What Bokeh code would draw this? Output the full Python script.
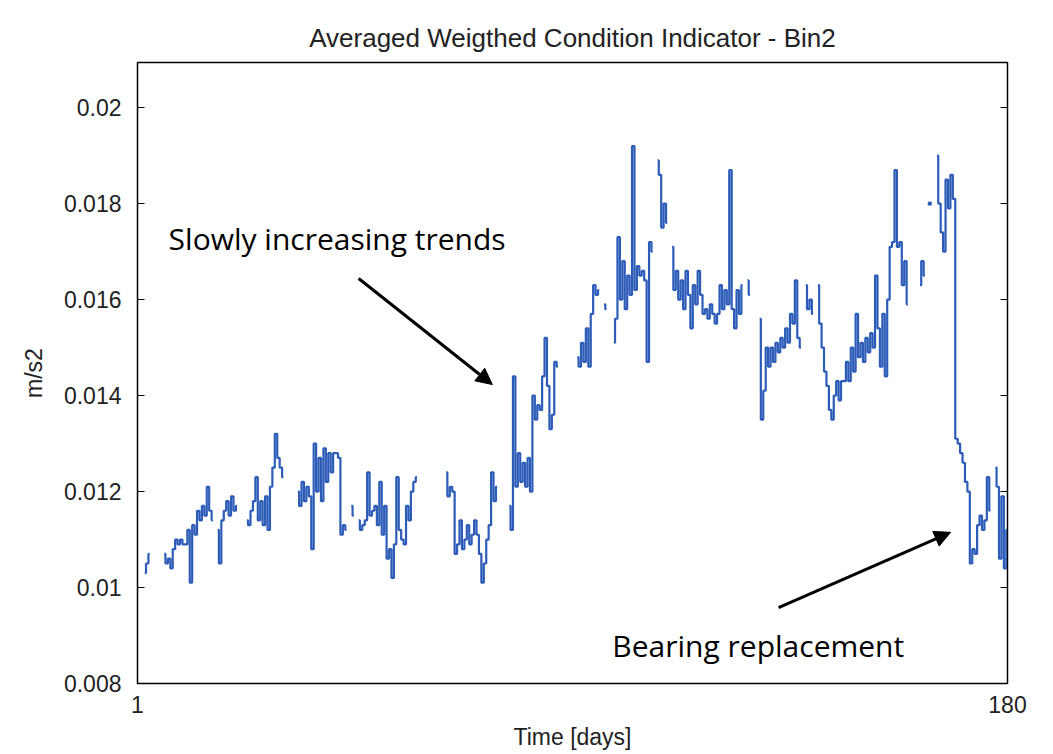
import numpy as np
from bokeh.plotting import figure
from bokeh.models import (LinearAxis, FixedTicker, CustomJSTickFormatter, Arrow,
                          NormalHead, Label, Range1d)
from bokeh.embed import file_html
from bokeh.resources import INLINE

nan = float("nan")

# sampling of the condition indicator: two readings per day, day 1 .. day 180
first_day = 1.0
last_day = 180.0
readings_per_day = 2

# averaged weighted condition indicator (m/s2); nan marks missing readings
ci_days_001_010 = [nan, nan, nan, 0.0103, 0.0105, 0.0107, nan, nan, nan, nan,
                   nan, 0.0107, 0.0105, 0.0106, 0.0104, 0.0108, 0.0110, 0.0109, 0.0110, 0.0109]
ci_days_011_020 = [0.0109, 0.0112, 0.0101, 0.0113, 0.0111, 0.0116, 0.0114, 0.0117, 0.0115, 0.0121,
                   0.0116, 0.0114, nan, 0.0112, 0.0105, 0.0114, 0.0116, 0.0118, 0.0115, 0.0119]
ci_days_021_030 = [0.0116, 0.0117, nan, nan, nan, 0.0114, 0.0113, 0.0116, 0.0118, 0.0123,
                   0.0114, 0.0118, 0.0113, 0.0119, 0.0112, 0.0121, 0.0125, 0.0132, 0.0127, 0.0125]
ci_days_031_040 = [0.0123, nan, nan, nan, nan, nan, 0.0120, 0.0117, 0.0122, 0.0118,
                   0.0121, 0.0119, 0.0108, 0.0130, 0.0120, 0.0127, 0.0118, 0.0129, 0.0122, 0.0128]
ci_days_041_050 = [0.0124, 0.0128, 0.0128, 0.0127, 0.0111, 0.0113, 0.0112, nan, 0.0117, 0.0115,
                   nan, 0.0114, 0.0112, 0.0113, 0.0114, 0.0124, 0.0115, 0.0116, 0.0117, 0.0113]
ci_days_051_060 = [0.0122, 0.0111, 0.0117, 0.0106, 0.0108, 0.0102, 0.0109, 0.0123, 0.0112, 0.0110,
                   0.0109, 0.0117, 0.0114, 0.0120, 0.0122, 0.0123, nan, nan, nan, nan]
ci_days_061_070 = [nan, nan, nan, nan, nan, nan, nan, 0.0124, 0.0119, 0.0121,
                   0.0120, 0.0107, 0.0109, 0.0114, 0.0108, 0.0110, 0.0113, 0.0109, 0.0111, 0.0114]
ci_days_071_080 = [0.0111, 0.0107, 0.0101, 0.0105, 0.0110, 0.0113, 0.0124, 0.0118, 0.0121, nan,
                   nan, nan, nan, 0.0117, 0.0112, 0.0144, 0.0121, 0.0128, 0.0122, 0.0126]
ci_days_081_090 = [0.0121, 0.0127, 0.0120, 0.0140, 0.0135, 0.0138, 0.0137, 0.0144, 0.0152, 0.0142,
                   0.0133, 0.0136, 0.0147, 0.0146, nan, nan, nan, nan, nan, nan]
ci_days_091_100 = [nan, 0.0148, 0.0146, 0.0151, 0.0147, 0.0154, 0.0146, 0.0157, 0.0163, 0.0161,
                   0.0162, nan, 0.0159, 0.0158, nan, nan, 0.0151, 0.0156, 0.0173, 0.0160]
ci_days_101_110 = [0.0168, 0.0158, 0.0165, 0.0161, 0.0192, 0.0162, 0.0167, 0.0165, 0.0166, 0.0164,
                   0.0147, 0.0172, 0.0170, nan, 0.0189, 0.0186, 0.0175, 0.0180, 0.0176, nan]
ci_days_111_120 = [0.0171, 0.0162, 0.0166, 0.0160, 0.0164, 0.0158, 0.0166, 0.0161, 0.0154, 0.0163,
                   0.0159, 0.0166, 0.0161, 0.0157, 0.0158, 0.0156, 0.0159, 0.0157, 0.0155, 0.0157]
ci_days_121_130 = [0.0163, 0.0158, 0.0162, 0.0159, 0.0187, 0.0158, 0.0154, 0.0162, 0.0157, 0.0163,
                   nan, 0.0164, 0.0161, nan, nan, nan, 0.0156, 0.0135, 0.0141, 0.0150]
ci_days_131_140 = [0.0146, 0.0150, 0.0147, 0.0151, 0.0149, 0.0152, 0.0150, 0.0154, 0.0151, 0.0157,
                   0.0155, 0.0164, 0.0152, 0.0150, nan, 0.0163, 0.0158, 0.0160, 0.0157, nan]
ci_days_141_150 = [0.0163, 0.0155, 0.0150, 0.0145, 0.0142, 0.0137, 0.0135, 0.0140, 0.0143, 0.0139,
                   0.0143, 0.0143, 0.0147, 0.0143, 0.0150, 0.0145, 0.0157, 0.0148, 0.0151, 0.0147]
ci_days_151_160 = [0.0152, 0.0149, 0.0153, 0.0150, 0.0165, 0.0154, 0.0146, 0.0157, 0.0144, 0.0160,
                   0.0171, 0.0172, 0.0187, 0.0171, 0.0172, 0.0163, 0.0168, 0.0159, nan, nan]
ci_days_161_170 = [nan, nan, 0.0163, 0.0168, 0.0165, nan, 0.0180, nan, nan, 0.0190,
                   0.0180, 0.0174, 0.0170, 0.0185, 0.0179, 0.0186, 0.0181, 0.0131, 0.0130, 0.0128]
ci_days_171_180 = [0.0126, 0.0122, 0.0120, 0.0105, 0.0108, 0.0107, 0.0113, 0.0115, 0.0112, 0.0114,
                   0.0123, 0.0116, nan, 0.0125, 0.0121, 0.0106, 0.0119, 0.0104, 0.0112]

y_ticks = [0.008, 0.010, 0.012, 0.014, 0.016, 0.018, 0.020]
x_ticks = [1, 180]

ci = np.array(ci_days_001_010 + ci_days_011_020 + ci_days_021_030 + ci_days_031_040 +
              ci_days_041_050 + ci_days_051_060 + ci_days_061_070 + ci_days_071_080 +
              ci_days_081_090 + ci_days_091_100 + ci_days_101_110 + ci_days_111_120 +
              ci_days_121_130 + ci_days_131_140 + ci_days_141_150 + ci_days_151_160 +
              ci_days_161_170 + ci_days_171_180)
days = first_day + np.arange(len(ci)) / readings_per_day

# readings with no neighbour on either side would vanish from a line: mark them
valid = np.isfinite(ci)
prev_ok = np.r_[False, valid[:-1]]
next_ok = np.r_[valid[1:], False]
lonely = valid & ~prev_ok & ~next_ok

LINE_BLUE = "#2c5cb8"
AX_FONT = "Liberation Sans"
AX_SIZE = "23px"

p = figure(width=1053, height=754, output_backend="svg", toolbar_location=None,
           x_range=Range1d(first_day, last_day), y_range=Range1d(0.008, 0.02094),
           min_border_left=137, min_border_right=46, min_border_top=62, min_border_bottom=71,
           background_fill_color="white", border_fill_color="white")
p.grid.visible = False
p.outline_line_color = "black"
p.outline_line_width = 1.5

p.title.text = "Averaged Weigthed Condition Indicator - Bin2"
p.title.align = "center"
p.title.text_font = AX_FONT
p.title.text_font_style = "normal"
p.title.text_font_size = "26px"
p.title.text_color = "#222222"
p.title.standoff = 20

ytick_fmt = CustomJSTickFormatter(code="return String(parseFloat(tick.toFixed(3)));")

# bottom axis: only the first and last day are labelled
xa = p.xaxis[0]
xa.ticker = FixedTicker(ticks=x_ticks)
xa.major_tick_in = 0
xa.major_tick_out = 0
xa.minor_tick_line_color = None
xa.axis_line_color = "black"
xa.axis_label = "Time [days]"
xa.axis_label_text_font = AX_FONT
xa.axis_label_text_font_style = "normal"
xa.axis_label_text_font_size = AX_SIZE
xa.axis_label_standoff = 8
xa.major_label_text_font = AX_FONT
xa.major_label_text_font_size = AX_SIZE
xa.major_label_standoff = 12
xa.major_label_text_color = "#222222"
xa.axis_label_text_color = "#222222"

ya = p.yaxis[0]
ya.ticker = FixedTicker(ticks=y_ticks)
ya.formatter = ytick_fmt
ya.major_tick_in = 7
ya.major_tick_out = 0
ya.minor_tick_line_color = None
ya.axis_line_color = "black"
ya.axis_label = "m/s2"
ya.axis_label_text_font = AX_FONT
ya.axis_label_text_font_style = "normal"
ya.axis_label_text_font_size = AX_SIZE
ya.axis_label_standoff = 14
ya.axis_label_text_color = "#222222"
ya.major_label_text_font = AX_FONT
ya.major_label_text_font_size = AX_SIZE
ya.major_label_standoff = 16
ya.major_label_text_color = "#222222"

# tick marks on the right edge of the box, without labels
ra = LinearAxis(ticker=FixedTicker(ticks=y_ticks), major_tick_in=7, major_tick_out=0,
                minor_tick_line_color=None, major_label_text_color=None,
                major_label_text_font_size="1px", axis_line_color="black")
p.add_layout(ra, "right")

p.step(days, ci, mode="center", line_color=LINE_BLUE, line_width=2.2)
p.scatter(days[lonely], ci[lonely], size=3, marker="square", color=LINE_BLUE)

# annotations
NOTE_FONT = "Open Sans"
p.add_layout(Label(x=7.4, y=0.01728, text="Slowly increasing trends", text_font=NOTE_FONT,
                   text_font_size="30px", text_baseline="middle", text_color="black"))
p.add_layout(Arrow(end=NormalHead(size=16, fill_color="black", line_color="black"),
                   x_start=46.5, y_start=0.01644, x_end=74.0, y_end=0.01423,
                   line_width=3, line_color="black"))
p.add_layout(Label(x=98.7, y=0.00879, text="Bearing replacement", text_font=NOTE_FONT,
                   text_font_size="30px", text_baseline="middle", text_color="black"))
p.add_layout(Arrow(end=NormalHead(size=16, fill_color="black", line_color="black"),
                   x_start=132.9, y_start=0.00958, x_end=168.3, y_end=0.01115,
                   line_width=3, line_color="black"))

open("out.html", "w").write(file_html(p, INLINE))
